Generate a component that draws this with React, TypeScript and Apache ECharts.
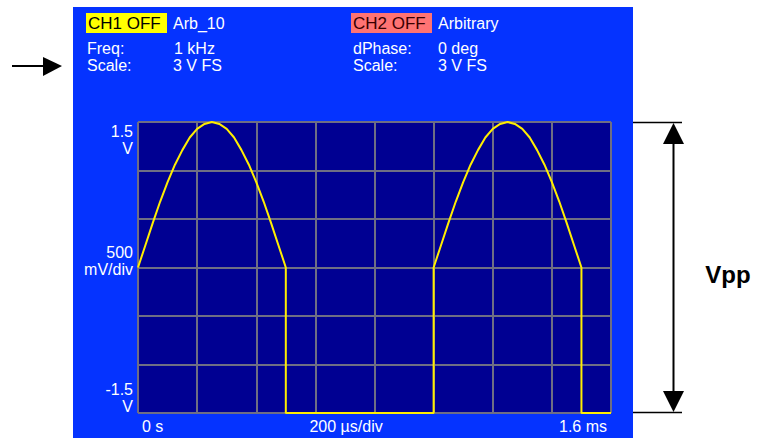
import React, { useEffect, useRef } from "react";
import * as echarts from "echarts";

// Time (µs) and voltage (V)
const arcTimes = [0, 25, 50, 75, 100, 125, 150, 175, 200, 225, 250, 275, 300, 325, 350, 375, 400, 425, 450, 475, 500];
const arcVolts = [0, 0.23, 0.46, 0.68, 0.88, 1.06, 1.21, 1.34, 1.43, 1.48, 1.5, 1.48, 1.43, 1.34, 1.21, 1.06, 0.88, 0.68, 0.46, 0.23, 0];
const lowLevel = -1.5;
const periodStarts = [0, 1000];
const timeEnd = 1600;

const yTickLabels = [
  { value: 1.5, lines: ["1.5", "V"], pos: "top" },
  { value: 0, lines: ["500", "mV/div"], pos: "middle" },
  { value: -1.5, lines: ["-1.5", "V"], pos: "bottom" },
];
const xTickLabels = { start: "0 s", middle: "200 µs/div", end: "1.6 ms" };

const header = {
  ch1: { badge: "CH1 OFF", name: "Arb_10", rows: [["Freq:", "1 kHz"], ["Scale:", "3 V FS"]] },
  ch2: { badge: "CH2 OFF", name: "Arbitrary", rows: [["dPhase:", "0 deg"], ["Scale:", "3 V FS"]] },
};

function buildWave(): number[][] {
  const pts: number[][] = [];
  periodStarts.forEach((p) => {
    arcTimes.forEach((t, i) => {
      if (p + t <= timeEnd) pts.push([p + t, arcVolts[i]]);
    });
    const fallT = p + arcTimes[arcTimes.length - 1];
    if (fallT <= timeEnd) {
      pts.push([fallT, lowLevel]);
      const endT = Math.min(p + 1000, timeEnd);
      pts.push([endT, lowLevel]);
    }
  });
  return pts;
}

const FONT = "'Liberation Sans', Arial, sans-serif";

export default function App() {
  const ref = useRef<HTMLDivElement>(null);
  useEffect(() => {
    document.body.style.margin = "0";
    const chart = echarts.init(ref.current!, null, { renderer: "svg" });
    const gridLeft = 138, gridTop = 122, gridW = 473, gridH = 291;

    const headerText = (x: number, y: number, text: string, fill = "#ffffff", size = 16) => ({
      type: "text",
      x,
      y,
      style: { text, fill, font: `${size}px ${FONT}`, verticalAlign: "middle", align: "left" },
      z: 10,
    });

    const base: any[] = [
      { type: "rect", shape: { x: 73, y: 7, width: 560, height: 431 }, style: { fill: "#0533ff" }, z: -10 },
      { type: "rect", shape: { x: 86, y: 13, width: 81, height: 20 }, style: { fill: "#ffff00" }, z: 5 },
      headerText(88, 23, header.ch1.badge, "#000000", 17),
      headerText(173, 23, header.ch1.name),
      headerText(87, 48, header.ch1.rows[0][0]),
      headerText(174, 48, header.ch1.rows[0][1]),
      headerText(87, 65, header.ch1.rows[1][0]),
      headerText(173, 65, header.ch1.rows[1][1]),
      { type: "rect", shape: { x: 351, y: 13, width: 81, height: 20 }, style: { fill: "#ff7373" }, z: 5 },
      headerText(353, 23, header.ch2.badge, "#3a0000", 17),
      headerText(438, 23, header.ch2.name),
      headerText(353, 48, header.ch2.rows[0][0]),
      headerText(438, 48, header.ch2.rows[0][1]),
      headerText(353, 65, header.ch2.rows[1][0]),
      headerText(438, 65, header.ch2.rows[1][1]),
      // left pointer arrow
      { type: "line", shape: { x1: 12, y1: 66, x2: 46, y2: 66 }, style: { stroke: "#000", lineWidth: 2 } },
      { type: "polygon", shape: { points: [[43, 57], [62, 66], [43, 76]] }, style: { fill: "#000" } },
      // Vpp annotation
      { type: "line", shape: { x1: 633, y1: 122.5, x2: 682, y2: 122.5 }, style: { stroke: "#000", lineWidth: 1.5 } },
      { type: "line", shape: { x1: 633, y1: 412.5, x2: 682, y2: 412.5 }, style: { stroke: "#000", lineWidth: 1.5 } },
      { type: "line", shape: { x1: 673.5, y1: 140, x2: 673.5, y2: 395 }, style: { stroke: "#000", lineWidth: 2 } },
      { type: "polygon", shape: { points: [[663, 144], [673.5, 123], [684, 144]] }, style: { fill: "#000" } },
      { type: "polygon", shape: { points: [[663, 391], [673.5, 412], [684, 391]] }, style: { fill: "#000" } },
      {
        type: "text", x: 728, y: 274,
        style: { text: "Vpp", fill: "#000", font: `bold 24px ${FONT}`, align: "center", verticalAlign: "middle" },
      },
    ];

    const option: any = {
      animation: false,
      grid: { left: gridLeft, top: gridTop, width: gridW, height: gridH, show: true, backgroundColor: "#000092", borderWidth: 0 },
      xAxis: {
        type: "value", min: 0, max: timeEnd, interval: 200,
        axisLine: { show: false }, axisTick: { show: false }, axisLabel: { show: false },
        splitLine: { show: true, lineStyle: { color: "#6e6e84", width: 2 } },
      },
      yAxis: {
        type: "value", min: -1.5, max: 1.5, interval: 0.5,
        axisLine: { show: false }, axisTick: { show: false }, axisLabel: { show: false },
        splitLine: { show: true, lineStyle: { color: "#6e6e84", width: 2 } },
      },
      series: [
        {
          type: "line", data: buildWave(), showSymbol: false, clip: false,
          lineStyle: { color: "#ffee00", width: 2 },
        },
      ],
      graphic: base,
    };
    chart.setOption(option);

    const toPx = (t: number, v: number) => chart.convertToPixel({ gridIndex: 0 }, [t, v]) as number[];
    const labelFont = `16px ${FONT}`;
    const extra: any[] = [];
    yTickLabels.forEach((l) => {
      const [, py] = toPx(0, l.value);
      let y0: number;
      if (l.pos === "top") y0 = py + 9;
      else if (l.pos === "bottom") y0 = py - 24;
      else y0 = py - 15;
      l.lines.forEach((s, i) => {
        extra.push({
          type: "text", x: gridLeft - 5, y: y0 + i * 17,
          style: { text: s, fill: "#fff", font: labelFont, align: "right", verticalAlign: "middle" },
        });
      });
    });
    const [x0, yb] = toPx(0, -1.5);
    const [xe] = toPx(timeEnd, -1.5);
    const [xm] = toPx(580, -1.5);
    extra.push({ type: "text", x: x0 + 4, y: yb + 13, style: { text: xTickLabels.start, fill: "#fff", font: labelFont, align: "left", verticalAlign: "middle" } });
    extra.push({ type: "text", x: xm, y: yb + 13, style: { text: xTickLabels.middle, fill: "#fff", font: labelFont, align: "left", verticalAlign: "middle" } });
    extra.push({ type: "text", x: xe - 4, y: yb + 13, style: { text: xTickLabels.end, fill: "#fff", font: labelFont, align: "right", verticalAlign: "middle" } });
    chart.setOption({ graphic: [...base, ...extra] }, { replaceMerge: ["graphic"] });

    return () => chart.dispose();
  }, []);
  return <div ref={ref} style={{ position: "absolute", left: 0, top: 0, width: 758, height: 438 }} />;
}
